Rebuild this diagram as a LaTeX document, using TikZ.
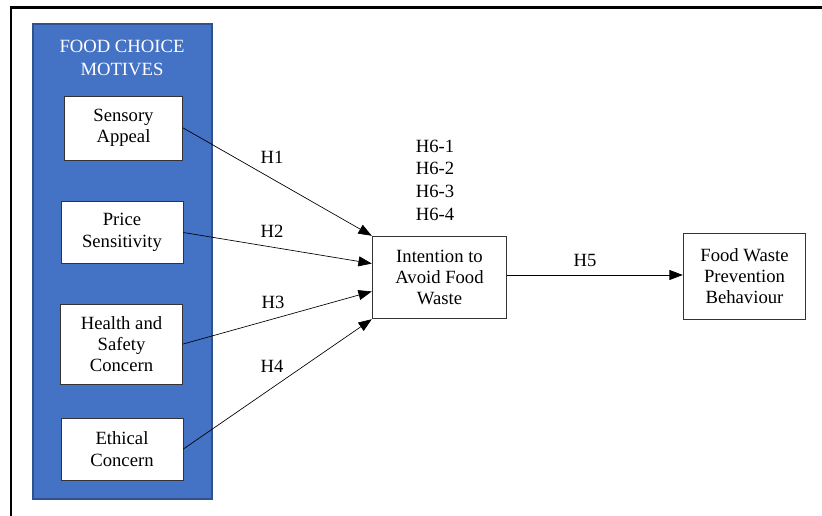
\documentclass[tikz,border=0pt]{standalone}
\usepackage{fontspec}
\IfFontExistsTF{LiberationSerif-Regular.ttf}{\setmainfont{LiberationSerif-Regular.ttf}}{\setmainfont{DejaVu Serif}}
\usepackage{tikz}
\usetikzlibrary{arrows.meta,calc}
\definecolor{panelblue}{RGB}{68,114,196}
\definecolor{paneledge}{RGB}{47,82,143}

\tikzset{
  motive/.style={draw=black!80, fill=white, line width=0.6pt, align=center,
    inner sep=2pt, font=\rmfamily\fontsize{14}{16}\selectfont},
  hyp/.style={inner sep=0.75pt, font=\rmfamily\fontsize{14}{17}\selectfont},
  link/.style={draw=black, line width=0.5pt, -{Triangle[length=10pt,width=7.5pt]}}
}

\begin{document}
\begin{tikzpicture}[x=0.75pt,y=0.75pt,yscale=-1,xscale=1]
\path[use as bounding box] (0,0) rectangle (822,516);

%Frame
\draw[line width=1.6pt] (11,516) -- (11,7.5) -- (822,7.5);

%Shape: Rectangle [panel]
\draw[draw=paneledge, fill=panelblue, line width=0.8pt] (33,24) rectangle (212,499);

% Text Node
\node (title) [inner sep=0.75pt, align=center, text=white, font=\rmfamily\fontsize{14}{17}\selectfont] at (122,58) {FOOD CHOICE\\MOTIVES};

% Boxes
\node (sensory) [motive, minimum width=89pt, minimum height=48pt] at (123.5,128) {Sensory\\Appeal};
\node (price) [motive, minimum width=91.5pt, minimum height=46pt] at (122,232.5) {Price\\Sensitivity};
\node (health) [motive, minimum width=92pt, minimum height=60pt] at (121.5,344) {Health and\\Safety\\Concern};
\node (ethical) [motive, minimum width=91.5pt, minimum height=46.5pt] at (122,449) {Ethical\\Concern};
\node (intention) [motive, minimum width=101pt, minimum height=62pt] at (439.5,277.5) {Intention to\\Avoid Food\\Waste};
\node (behaviour) [motive, minimum width=92pt, minimum height=64.5pt] at (744.5,276) {Food Waste\\Prevention\\Behaviour};

% Arrows
\draw[link] (sensory.east) -- (intention.north west);
\draw[link] (price.east) -- ($(intention.north west)!0.333!(intention.south west)$);
\draw[link] (health.east) -- ($(intention.north west)!0.667!(intention.south west)$);
\draw[link] (ethical.east) -- (intention.south west);
\draw[link] (intention.east |- 0,275) -- (behaviour.west |- 0,275);

% Text Node
\node (h1) [hyp] at (272,157) {H1};
\node (h2) [hyp] at (272,231) {H2};
\node (h3) [hyp] at (273,302) {H3};
\node (h4) [hyp] at (272,366) {H4};
\node (h5) [hyp] at (585,260) {H5};
\node (h6) [hyp, align=center] at (435,180) {H6-1\\H6-2\\H6-3\\H6-4};

\end{tikzpicture}
\end{document}
